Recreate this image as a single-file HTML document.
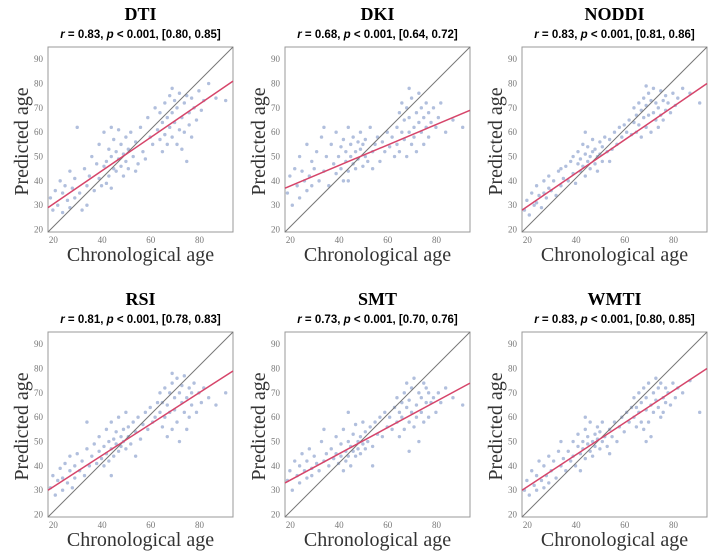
<!DOCTYPE html>
<html><head><meta charset="utf-8">
<style>
body{margin:0;background:#fff;width:720px;height:552px;overflow:hidden}
svg text{font-family:"Liberation Serif",serif}
.t{font-weight:bold;font-size:18px;text-anchor:middle}
.s{font-family:"Liberation Sans",sans-serif!important;font-weight:bold;font-size:11.5px;text-anchor:middle}
.tk{font-size:9px;fill:#777}
.ax{font-size:20px;fill:#333}
</style></head><body>
<svg id="c" width="720" height="552"></svg>
<script>
const titles=["DTI","DKI","NODDI","RSI","SMT","WMTI"];
const subtitles=["0.83, ","0.68, ","0.83, ","0.81, ","0.73, ","0.83, "];
const cis=["[0.80, 0.85]","[0.64, 0.72]","[0.81, 0.86]","[0.78, 0.83]","[0.70, 0.76]","[0.80, 0.85]"];
const fitStart=[29,37,28,30,33,30];
const fitEnd=[81,69,80,79,74,80];
const xTicks=[20,40,60,80];
const yTicks=[20,30,40,50,60,70,80,90];
const ages=[20,21,22,23,24,25,25,26,27,28,28,29,30,30,31,32,33,34,35,36,37,38,39,40,40,41,42,42,43,43,44,44,45,45,46,46,47,47,48,48,49,49,50,50,51,51,52,52,53,54,55,56,57,58,59,60,61,62,63,64,65,65,66,66,67,67,68,68,69,69,70,70,71,71,72,72,73,73,74,74,75,75,76,76,77,77,78,78,79,80,81,82,83,85,88,92,35,45,55,70];
const predDTI=[33,28,36,30,40,27,35,38,32,44,29,37,33,41,62,35,28,45,38,42,50,36,47,41,55,38,46,60,39,48,42,53,37,50,45,57,44,52,49,61,46,55,51,42,58,48,53,45,60,50,56,47,62,52,49,66,58,55,70,61,57,68,52,64,59,72,55,66,62,75,58,68,64,73,55,70,61,76,66,53,72,60,75,48,68,63,74,58,70,65,77,69,73,80,74,73,30,62,44,78];
const predDKI=[35,42,30,45,38,50,33,44,40,36,55,42,48,38,45,52,40,58,44,50,38,55,47,43,60,50,45,54,40,57,48,52,62,44,50,55,47,58,52,45,56,49,53,60,46,55,50,57,48,62,52,55,58,48,56,52,60,54,58,50,62,55,68,52,60,72,57,65,50,70,60,66,55,74,62,58,68,52,64,76,60,70,55,66,72,62,58,68,64,70,62,66,72,60,65,62,62,40,45,78];
const predNODDI=[28,32,26,35,30,38,31,34,29,40,35,33,37,42,36,40,34,44,38,41,46,40,48,43,50,39,47,52,44,49,46,55,42,51,48,54,45,50,52,57,47,53,50,44,56,51,54,48,58,52,57,53,60,55,62,58,63,60,65,59,64,70,60,67,63,72,58,69,66,74,62,71,67,76,60,73,68,78,65,72,70,62,77,67,73,65,75,69,72,68,76,71,74,78,76,72,45,60,48,79];
const predRSI=[31,36,28,34,39,30,35,41,33,38,44,31,40,35,45,38,42,36,47,40,44,49,41,46,52,43,48,40,55,45,50,42,47,58,44,51,49,54,46,60,52,48,55,50,62,47,56,52,49,58,54,60,51,57,62,55,64,58,60,66,62,70,56,66,72,60,65,52,70,62,74,55,68,63,76,58,70,50,66,73,62,77,68,55,72,60,70,65,74,62,70,66,72,68,65,70,58,36,44,78];
const predSMT=[34,38,30,42,36,40,33,45,38,35,42,47,39,36,44,41,38,50,42,45,40,47,43,52,45,41,49,44,38,55,46,42,50,44,48,40,53,46,44,57,50,47,52,45,49,58,47,54,50,56,48,58,53,60,52,62,56,60,55,64,58,68,62,52,66,60,70,55,64,74,58,67,62,72,56,76,65,60,70,50,68,62,74,58,66,72,60,70,66,68,62,70,66,72,68,65,55,62,40,46];
const predWMTI=[30,34,28,38,32,36,30,42,34,31,40,36,44,33,38,42,35,46,40,43,38,46,42,50,44,40,48,53,45,38,50,47,55,43,49,52,46,58,50,44,53,48,51,56,47,54,50,58,52,48,55,52,58,50,56,60,54,62,58,64,60,68,56,64,62,70,58,66,55,72,63,68,58,74,65,52,70,62,67,76,64,72,60,74,68,62,72,66,70,65,74,68,72,70,75,62,50,60,45,50];
const preds=[predDTI,predDKI,predNODDI,predRSI,predSMT,predWMTI];

const NS="http://www.w3.org/2000/svg";
const svg=document.getElementById('c');
const lefts=[48,285,522], tops=[47,332], S=185, D0=19, D1=95;
function mk(tag,attrs,parent){const e=document.createElementNS(NS,tag);for(const k in attrs)e.setAttribute(k,attrs[k]);(parent||svg).appendChild(e);return e;}
titles.forEach((t,i)=>{
  const L=lefts[i%3], T=tops[Math.floor(i/3)];
  const sx=v=>L+(v-D0)/(D1-D0)*S, sy=v=>T+S-(v-D0)/(D1-D0)*S;
  const g=mk('g',{});
  
  
  const cx=L+S/2;
  const tt=mk('text',{x:cx,y:T-27,class:'t'},g);tt.textContent=t;
  
  
  const st=mk('text',{x:cx,y:T-9,class:'s'},g);
  st.innerHTML='<tspan font-style="italic">r</tspan> = '+subtitles[i]+'<tspan font-style="italic">p</tspan> &lt; 0.001, '+cis[i];
  
  
  const box=mk('rect',{x:L,y:T,width:S,height:S,fill:'none',stroke:'#999','stroke-width':1},g);
  
  
  xTicks.forEach(v=>{const e=mk('text',{x:sx(v)+3,y:T+S+11,class:'tk','text-anchor':'middle'},g);e.textContent=v;
    
    });
  yTicks.forEach(v=>{const e=mk('text',{x:L-5,y:sy(v)+3,class:'tk','text-anchor':'end'},g);e.textContent=v;
    
    });
  const xl=mk('text',{x:cx,y:T+S+29,class:'ax','text-anchor':'middle'},g);xl.textContent='Chronological age';
  
  
  const yl=mk('text',{x:0,y:0,class:'ax','text-anchor':'middle',transform:`translate(${L-20},${T+S/2+2}) rotate(-90)`},g);yl.textContent='Predicted age';
  
  
  preds[i].forEach((p,j)=>{const c=mk('circle',{cx:sx(ages[j]),cy:sy(p),r:1.7,fill:'#7d95c6','fill-opacity':0.6},g);
    
    });
  const id=mk('line',{x1:sx(D0),y1:sy(D0),x2:sx(D1),y2:sy(D1),stroke:'#777','stroke-width':1},g);
  
  
  const fl=mk('line',{x1:sx(D0),y1:sy(fitStart[i]),x2:sx(D1),y2:sy(fitEnd[i]),stroke:'#d6456a','stroke-width':1.5},g);
  
  
});
</script>
</body></html>
